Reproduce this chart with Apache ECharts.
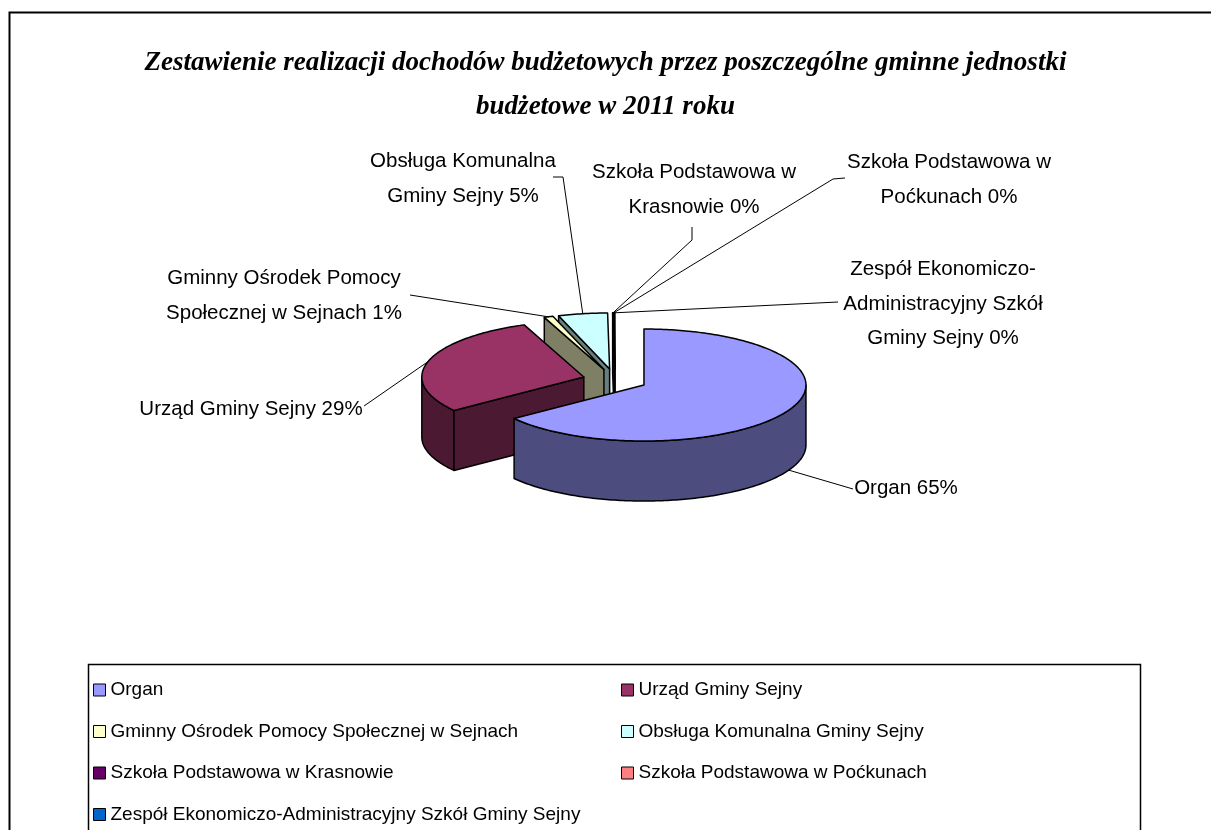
<!DOCTYPE html>
<html lang="pl">
<head>
<meta charset="UTF-8" />
<script src="https://cdn.jsdelivr.net/npm/echarts@6/dist/echarts.min.js"></script>
<title>Dochody budżetowe 2011</title>
</head>
<body style="margin:0">
<div id="wykres" style="width:1211px;height:830px"></div>
<script>
  // dane (udział w %)
  const kategorie = [
    "Organ",
    "Urząd Gminy Sejny",
    "Gminny Ośrodek Pomocy Społecznej w Sejnach",
    "Obsługa Komunalna Gminy Sejny",
    "Szkoła Podstawowa w Krasnowie",
    "Szkoła Podstawowa w Poćkunach",
    "Zespół Ekonomiczo-Administracyjny Szkół Gminy Sejny",
  ];
  const udzialy = [64.8, 29.2, 0.9, 4.9, 0.08, 0.05, 0.07];
  const etykiety = [
    "Organ",
    "Urząd Gminy Sejny",
    "Gminny Ośrodek Pomocy\nSpołecznej w Sejnach",
    "Obsługa Komunalna\nGminy Sejny",
    "Szkoła Podstawowa w\nKrasnowie",
    "Szkoła Podstawowa w\nPoćkunach",
    "Zespół Ekonomiczo-\nAdministracyjny Szkół\nGminy Sejny",
  ];
  const kolory = ["#9999FF", "#993366", "#FFFFCC", "#CCFFFF", "#660066", "#FF8080", "#0066CC"];

  // rozmieszczenie etykiet (środek tekstu) i początki linii odniesienia
  const polozenieEtykiet = [[906, 488], [251, 409], [284, 296], [463, 179], [694, 190], [949, 180], [943, 304]];
  const linieOdniesienia = [
    [[853, 489]],
    [[364, 406]],
    [[410, 295]],
    [[553, 177], [563, 177]],
    [[692, 227], [692, 240]],
    [[845, 178], [833, 179]],
    [[838, 302]],
  ];

  const srodek = [615, 380];
  const RX = 162, RY = 56, GLEB = 60, ODSUN = 0.2;

  const suma = udzialy.reduce((a, b) => a + b, 0);
  let narast = 0;
  const katy = udzialy.map((v) => {
    const p = (narast / suma) * 2 * Math.PI;
    narast += v;
    const k = (narast / suma) * 2 * Math.PI;
    const m = (p + k) / 2;
    const c = [srodek[0] + ODSUN * RX * Math.sin(m), srodek[1] - ODSUN * RY * Math.cos(m)];
    return { p, k, m, c };
  });

  const pkt = (c, t, dy) => [c[0] + RX * Math.sin(t), c[1] - RY * Math.cos(t) + (dy || 0)];
  const luk = (c, a, b, dy) => {
    const n = Math.max(2, Math.ceil(((b - a) * 180) / Math.PI));
    const pts = [];
    for (let j = 0; j <= n; j++) pts.push(pkt(c, a + ((b - a) * j) / n, dy));
    return pts;
  };
  const ciemniej = (hex) => {
    const n = parseInt(hex.slice(1), 16);
    const r = ((n >> 16) & 255) >> 1, g = ((n >> 8) & 255) >> 1, b = (n & 255) >> 1;
    return `rgb(${r},${g},${b})`;
  };
  const styl = (fill) => ({ fill: fill, stroke: "#000", lineWidth: 1.5, lineJoin: "round" });

  const rysuj = (i) => (params, api) => {
    const s = katy[i];
    const c = s.c;
    const bok = ciemniej(kolory[i]);
    const el = [];
    // ściana zewnętrzna (tylko przednia część)
    const a0 = Math.max(s.p, Math.PI / 2), a1 = Math.min(s.k, 1.5 * Math.PI);
    if (a1 > a0) {
      const pts = luk(c, a0, a1, 0).concat(luk(c, a0, a1, GLEB).reverse());
      el.push({ type: "polygon", shape: { points: pts }, style: styl(bok), z2: 1 });
    }
    // ściany promieniowe
    if (Math.sin(s.p) < -1e-6) {
      const r = pkt(c, s.p, 0);
      el.push({ type: "polygon", shape: { points: [c, r, [r[0], r[1] + GLEB], [c[0], c[1] + GLEB]] }, style: styl(bok), z2: 2 });
    }
    if (Math.sin(s.k) > 1e-6) {
      const r = pkt(c, s.k, 0);
      el.push({ type: "polygon", shape: { points: [c, r, [r[0], r[1] + GLEB], [c[0], c[1] + GLEB]] }, style: styl(bok), z2: 2 });
    }
    // wierzch
    el.push({ type: "polygon", shape: { points: [c].concat(luk(c, s.p, s.k, 0)) }, style: styl(kolory[i]), z2: 5 });
    // linia odniesienia i etykieta
    const koniec = pkt(c, s.m, Math.cos(s.m) < 0 ? GLEB : 0);
    el.push({
      type: "polyline",
      shape: { points: linieOdniesienia[i].concat([koniec]) },
      style: { stroke: "#000", lineWidth: 1, fill: null },
      z2: 8,
    });
    const proc = Math.round((api.value(0) / suma) * 100);
    el.push({
      type: "text",
      z2: 9,
      style: {
        text: etykiety[i] + " " + proc + "%",
        x: polozenieEtykiet[i][0],
        y: polozenieEtykiet[i][1],
        fill: "#000",
        fontSize: 20.5,
        fontFamily: "Liberation Sans",
        align: "center",
        verticalAlign: "middle",
        lineHeight: 34.5,
      },
    });
    return { type: "group", children: el };
  };

  // kolejność rysowania: od tyłu do przodu
  const kolejnosc = katy.map((s, i) => i).sort((a, b) => Math.cos(katy[b].m) - Math.cos(katy[a].m));
  const warstwa = [];
  kolejnosc.forEach((i, r) => (warstwa[i] = 2 + r));

  const wykres = echarts.init(document.getElementById("wykres"), null, { renderer: "canvas" });
  const legendaWspolna = {
    orient: "vertical",
    top: 675,
    itemWidth: 12,
    itemHeight: 12,
    itemGap: 21.5,
    icon: "rect",
    selectedMode: false,
    itemStyle: { borderColor: "#000", borderWidth: 1 },
    textStyle: { fontFamily: "Liberation Sans", fontSize: 19, color: "#000", lineHeight: 20 },
  };
  wykres.setOption({
    animation: false,
    backgroundColor: "#fff",
    title: {
      text: "Zestawienie realizacji dochodów budżetowych przez poszczególne gminne jednostki\nbudżetowe w 2011 roku",
      left: "center",
      top: 36,
      textStyle: {
        fontFamily: "Liberation Serif",
        fontStyle: "italic",
        fontWeight: "bold",
        fontSize: 27,
        lineHeight: 44,
        color: "#000",
      },
    },
    legend: [
      Object.assign({}, legendaWspolna, { left: 88, data: [kategorie[0], kategorie[2], kategorie[4], kategorie[6]] }),
      Object.assign({}, legendaWspolna, { left: 616, data: [kategorie[1], kategorie[3], kategorie[5]] }),
    ],
    graphic: [
      { type: "rect", shape: { x: 9.5, y: 12.5, width: 1400, height: 1000 }, style: { fill: null, stroke: "#000", lineWidth: 2 } },
      { type: "rect", shape: { x: 88.5, y: 664.5, width: 1052, height: 300 }, style: { fill: null, stroke: "#000", lineWidth: 1.5 } },
    ],
    series: kategorie.map((nazwa, i) => ({
      type: "custom",
      name: nazwa,
      coordinateSystem: "none",
      z: warstwa[i],
      itemStyle: { color: kolory[i] },
      renderItem: rysuj(i),
      data: [[udzialy[i]]],
    })),
  });
</script>
</body>
</html>
